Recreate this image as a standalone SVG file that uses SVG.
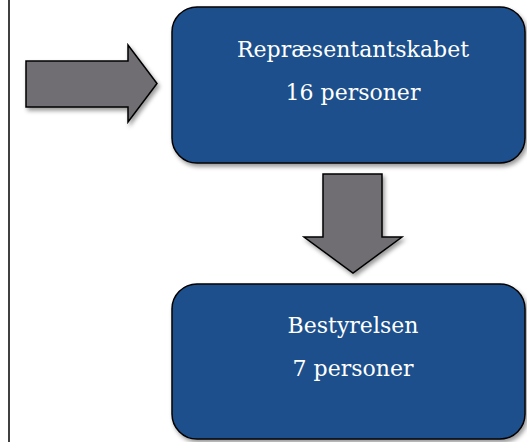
<svg xmlns="http://www.w3.org/2000/svg" width="527" height="442" viewBox="0 0 527 442">
<style>
.box{fill:#1f508b;stroke:#000;stroke-width:1.5;filter:url(#sh)}
.arrow{fill:#6f6e73;stroke:#000;stroke-width:1.5;stroke-linejoin:miter;filter:url(#sh)}
.lbl{font-family:"DejaVu Serif","Liberation Serif",serif;font-size:22px;fill:#fff;text-anchor:middle}
</style>
<defs>
<filter id="sh" x="-10%" y="-10%" width="125%" height="130%">
<feDropShadow dx="2" dy="3" stdDeviation="2" flood-color="#000" flood-opacity="0.4"/>
</filter>
</defs>
<line x1="9" y1="0" x2="9" y2="442" stroke="#000" stroke-width="1.5"/>
<g id="connectors">
<path class="arrow" d="M26,61 H128 V45 L157,83.5 L128,122 V107 H26 Z"/>
<path class="arrow" d="M323,174 H382 V237 H402 L353,273 L304,237 H323 Z"/>
</g>
<g id="reprasentantskabet">
<rect class="box" x="172" y="7" width="353" height="156" rx="25" ry="25"/>
<text class="lbl" x="353" y="57">Repræsentantskabet</text>
<text class="lbl" x="353" y="100">16 personer</text>
</g>
<g id="bestyrelsen">
<rect class="box" x="172" y="284" width="353" height="155" rx="25" ry="25"/>
<text class="lbl" x="353" y="333">Bestyrelsen</text>
<text class="lbl" x="353" y="376">7 personer</text>
</g>
</svg>
